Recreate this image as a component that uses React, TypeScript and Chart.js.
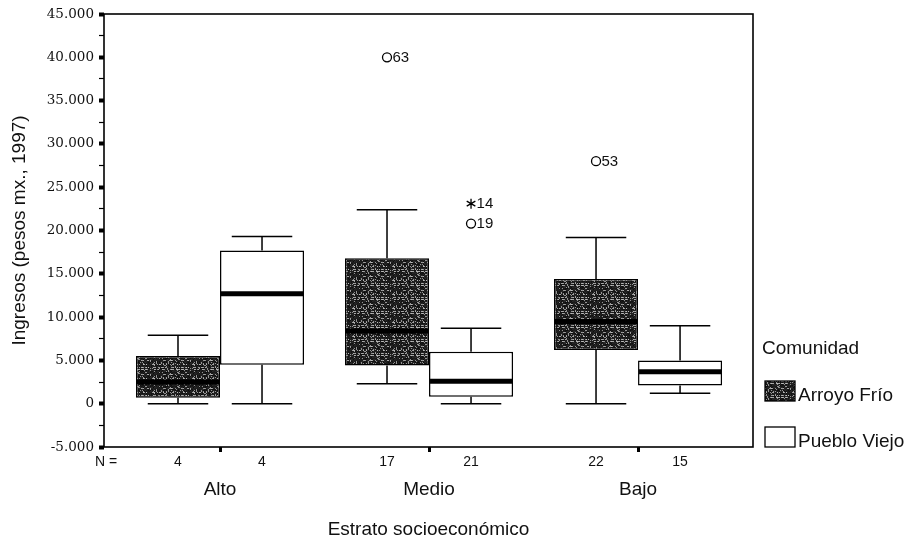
import React, { useEffect, useRef } from 'react';
import { Chart, registerables } from 'chart.js';

Chart.register(...registerables);

// ---- data ----
const groups = ['Alto', 'Medio', 'Bajo'];
const seriesNames = ['Arroyo Frío', 'Pueblo Viejo'];
const legendTitle = 'Comunidad';

const arroyoMin = [0, 2300, 0];
const arroyoQ1 = [700, 4400, 6200];
const arroyoMedian = [2500, 8400, 9500];
const arroyoQ3 = [5500, 16800, 14400];
const arroyoMax = [7900, 22400, 19200];
const arroyoN = [4, 17, 22];

const puebloMin = [0, 0, 1200];
const puebloQ1 = [4500, 800, 2100];
const puebloMedian = [12700, 2600, 3700];
const puebloQ3 = [17700, 6000, 5000];
const puebloMax = [19300, 8700, 9000];
const puebloN = [4, 21, 15];

const outlierGroup = [1, 1, 1, 2];
const outlierSeries = [0, 1, 1, 0];
const outlierValue = [40000, 23100, 20800, 28000];
const outlierCase = ['63', '14', '19', '53'];
const outlierKind = ['circle', 'star', 'circle', 'circle'];

const yTickValues = [-5000, -2500, 0, 2500, 5000, 7500, 10000, 12500, 15000, 17500, 20000, 22500, 25000, 27500, 30000, 32500, 35000, 37500, 40000, 42500, 45000];
const yMajorStep = 5000;

const stats = [
  { min: arroyoMin, q1: arroyoQ1, med: arroyoMedian, q3: arroyoQ3, max: arroyoMax, n: arroyoN },
  { min: puebloMin, q1: puebloQ1, med: puebloMedian, q3: puebloQ3, max: puebloMax, n: puebloN },
];

const W = 911;
const H = 549;
const SANS = '"Liberation Sans", Arial, sans-serif';
const TXT = '#111';

function fmt(v: number): string {
  if (v === 0) return '0';
  const s = v < 0 ? '-' : '';
  const a = Math.abs(v);
  return s + Math.floor(a / 1000) + '.' + String(a % 1000).padStart(3, '0');
}

function makeTexture(): HTMLCanvasElement {
  const TW = 40;
  const TH = 14;
  const c = document.createElement('canvas');
  c.width = TW;
  c.height = TH;
  const g = c.getContext('2d')!;
  const img = g.createImageData(TW, TH);
  for (let y = 0; y < TH; y++) {
    for (let x = 0; x < TW; x++) {
      let h = (Math.imul(x + 11, 374761393) + Math.imul(y + 3, 668265263)) >>> 0;
      h = Math.imul(h ^ (h >>> 13), 1274126177) >>> 0;
      h = (h ^ (h >>> 16)) >>> 0;
      const n = (h & 255) / 255;
      const streak = y % 5 === 0 || y % 7 === 3;
      const v = streak ? (n > 0.5 ? 90 + n * 100 : 30) : n > 0.88 ? 100 + n * 50 : 12 + n * 35;
      const k = (y * TW + x) * 4;
      img.data[k] = v;
      img.data[k + 1] = v;
      img.data[k + 2] = v;
      img.data[k + 3] = 255;
    }
  }
  g.putImageData(img, 0, 0);
  return c;
}

function makePlugin(texture: CanvasPattern | string) {
  return {
    id: 'boxExtras',
    beforeDatasetsDraw(chart: any) {
      const ctx = chart.ctx;
      const y = chart.scales.y;
      ctx.save();
      ctx.strokeStyle = '#000';
      ctx.lineWidth = 1.5;
      stats.forEach((st, si) => {
        const meta = chart.getDatasetMeta(si);
        meta.data.forEach((bar: any, gi: number) => {
          const x = bar.x;
          const cap = bar.width * 0.36;
          const yMax = y.getPixelForValue(st.max[gi]);
          const yQ3 = y.getPixelForValue(st.q3[gi]);
          const yQ1 = y.getPixelForValue(st.q1[gi]);
          const yMin = y.getPixelForValue(st.min[gi]);
          ctx.beginPath();
          ctx.moveTo(x, yQ3);
          ctx.lineTo(x, yMax);
          ctx.moveTo(x - cap, yMax);
          ctx.lineTo(x + cap, yMax);
          ctx.moveTo(x, yQ1);
          ctx.lineTo(x, yMin);
          ctx.moveTo(x - cap, yMin);
          ctx.lineTo(x + cap, yMin);
          ctx.stroke();
        });
      });
      ctx.restore();
    },
    afterDatasetsDraw(chart: any) {
      const ctx = chart.ctx;
      const y = chart.scales.y;
      const area = chart.chartArea;
      ctx.save();
      // medians
      ctx.strokeStyle = '#000';
      ctx.lineWidth = 5;
      stats.forEach((st, si) => {
        const meta = chart.getDatasetMeta(si);
        meta.data.forEach((bar: any, gi: number) => {
          const ym = y.getPixelForValue(st.med[gi]);
          ctx.beginPath();
          ctx.moveTo(bar.x - bar.width / 2 + 1, ym);
          ctx.lineTo(bar.x + bar.width / 2 - 1, ym);
          ctx.stroke();
        });
      });
      // outliers
      ctx.lineWidth = 1.3;
      ctx.fillStyle = TXT;
      ctx.font = '15px ' + SANS;
      ctx.textBaseline = 'middle';
      ctx.textAlign = 'left';
      outlierValue.forEach((v, k) => {
        const bar = chart.getDatasetMeta(outlierSeries[k]).data[outlierGroup[k]];
        const x = bar.x;
        const yy = y.getPixelForValue(v);
        ctx.beginPath();
        if (outlierKind[k] === 'circle') {
          ctx.arc(x, yy, 4.5, 0, Math.PI * 2);
        } else {
          for (let a = 0; a < 3; a++) {
            const ang = Math.PI / 2 + (a * Math.PI) / 3;
            ctx.moveTo(x - Math.cos(ang) * 5, yy - Math.sin(ang) * 5);
            ctx.lineTo(x + Math.cos(ang) * 5, yy + Math.sin(ang) * 5);
          }
        }
        ctx.stroke();
        ctx.fillText(outlierCase[k], x + 5.5, yy + 0.5);
      });
      // frame
      ctx.lineWidth = 1.6;
      ctx.strokeRect(area.left, area.top, area.right - area.left, area.bottom - area.top);
      ctx.restore();
    },
    afterDraw(chart: any) {
      const ctx = chart.ctx;
      const area = chart.chartArea;
      ctx.save();
      ctx.fillStyle = TXT;
      ctx.textBaseline = 'middle';
      // N row
      ctx.font = '14px ' + SANS;
      ctx.textAlign = 'center';
      ctx.fillText('N =', area.left + 2, 462);
      stats.forEach((st, si) => {
        const meta = chart.getDatasetMeta(si);
        meta.data.forEach((bar: any, gi: number) => {
          ctx.fillText(String(st.n[gi]), bar.x, 462);
        });
      });
      // legend
      const lx = area.right + 12;
      ctx.textAlign = 'left';
      ctx.font = '19px ' + SANS;
      ctx.fillText(legendTitle, lx - 3, 349);
      const rows = [391, 437];
      seriesNames.forEach((name, si) => {
        const cy = rows[si];
        ctx.fillStyle = si === 0 ? (texture as any) : '#fff';
        ctx.fillRect(lx, cy - 10, 30, 20);
        ctx.strokeStyle = '#000';
        ctx.lineWidth = 1.3;
        ctx.strokeRect(lx, cy - 10, 30, 20);
        ctx.fillStyle = TXT;
        ctx.fillText(name, lx + 33, cy + 5);
      });
      ctx.restore();
    },
  };
}

export default function App() {
  const ref = useRef<HTMLCanvasElement>(null);
  useEffect(() => {
    const canvas = ref.current!;
    const ctx = canvas.getContext('2d')!;
    const texture = ctx.createPattern(makeTexture(), 'repeat') || '#333';
    const chart = new Chart(canvas, {
      type: 'bar',
      data: {
        datasets: [
          {
            label: seriesNames[0],
            data: groups.map((_, i) => ({ x: i, y: [arroyoQ1[i], arroyoQ3[i]] })) as any,
            backgroundColor: texture as any,
            borderColor: '#000',
            borderWidth: 1.5,
            borderSkipped: false,
          },
          {
            label: seriesNames[1],
            data: groups.map((_, i) => ({ x: i, y: [puebloQ1[i], puebloQ3[i]] })) as any,
            backgroundColor: '#fff',
            borderColor: '#000',
            borderWidth: 1.5,
            borderSkipped: false,
          },
        ],
      },
      options: {
        responsive: false,
        animation: false,
        events: [],
        layout: { padding: { top: 14, right: 158, left: 0, bottom: 0 } },
        datasets: { bar: { categoryPercentage: 0.804, barPercentage: 1 } } as any,
        plugins: { legend: { display: false }, tooltip: { enabled: false } },
        scales: {
          x: {
            type: 'linear',
            min: -0.555,
            max: 2.55,
            offset: false,
            afterBuildTicks: (s: any) => {
              s.ticks = groups.map((_, i) => ({ value: i }));
            },
            afterFit: (s: any) => {
              s.height = H - 447;
            },
            grid: { display: true, offset: false, drawOnChartArea: false, drawTicks: true, tickLength: 5, tickWidth: 3, tickColor: '#000' },
            border: { display: false },
            ticks: {
              autoSkip: false,
              maxRotation: 0,
              padding: 26,
              color: TXT,
              font: { family: SANS, size: 19 },
              callback: (v: any) => groups[v as number] ?? '',
            },
            title: {
              display: true,
              text: 'Estrato socioeconómico',
              color: TXT,
              font: { family: SANS, size: 19 },
              padding: { top: 0, bottom: 8 },
            },
          },
          y: {
            min: -5000,
            max: 45000,
            afterBuildTicks: (s: any) => {
              s.ticks = yTickValues.map((v) => ({ value: v }));
            },
            afterFit: (s: any) => {
              s.width = 104;
            },
            grid: {
              display: true,
              drawOnChartArea: false,
              drawTicks: true,
              tickLength: 5,
              tickColor: '#000',
              tickWidth: (c: any) => (c.tick && c.tick.value % yMajorStep === 0 ? 4 : 1.2),
            },
            border: { display: false },
            ticks: {
              autoSkip: false,
              padding: 5,
              color: TXT,
              font: { family: '"DejaVu Serif", serif', size: 13.5 },
              callback: (v: any) => (Number(v) % yMajorStep === 0 ? fmt(Number(v)) : ''),
            },
            title: {
              display: true,
              text: 'Ingresos (pesos mx., 1997)',
              color: TXT,
              font: { family: SANS, size: 19 },
              padding: { top: 8, bottom: 0 },
            },
          },
        },
      },
      plugins: [makePlugin(texture)],
    } as any);
    return () => chart.destroy();
  }, []);
  return (
    <div style={{ position: 'fixed', left: 0, top: 0, width: W, height: H, background: '#fff' }}>
      <canvas ref={ref} width={W} height={H} style={{ width: W, height: H, display: 'block' }} />
    </div>
  );
}
